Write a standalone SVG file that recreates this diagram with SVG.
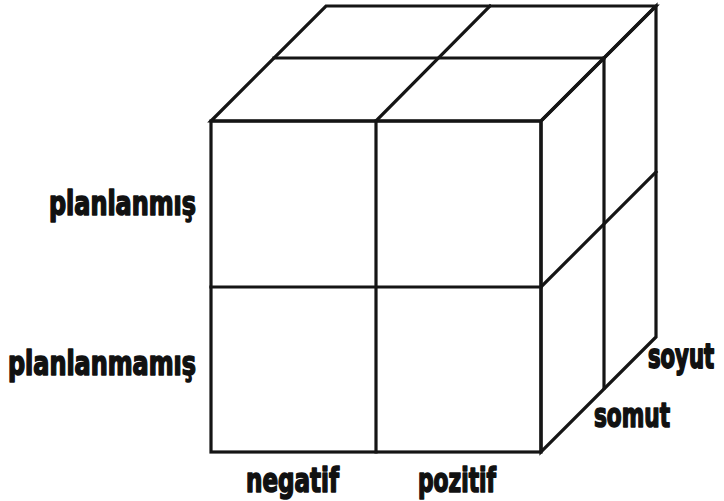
<svg xmlns="http://www.w3.org/2000/svg" width="724" height="501" viewBox="0 0 724 501">
<style>
.e{fill:none;stroke:#151515;stroke-width:3.2;stroke-linejoin:miter;stroke-linecap:square}
.t{font-family:"DejaVu Sans",sans-serif;font-weight:bold;font-stretch:condensed;font-size:33px;fill:#111;stroke:#111;stroke-width:1.6;stroke-linejoin:round}
</style>
<rect width="724" height="501" fill="#fff"/>
<g id="cube">
<g id="top-face">
<polygon class="e" points="211,121 326,6 656,6 541,121"/>
<line class="e" x1="274" y1="58" x2="604" y2="58"/>
<line class="e" x1="376" y1="121" x2="490" y2="6"/>
</g>
<g id="right-face">
<polygon class="e" points="541,121 656,6 656,337 541,452"/>
<line class="e" x1="604" y1="58" x2="604" y2="388"/>
<line class="e" x1="541" y1="287" x2="656" y2="172"/>
</g>
<g id="front-face">
<rect class="e" x="211" y="121" width="330" height="331"/>
<line class="e" x1="376" y1="121" x2="376" y2="452"/>
<line class="e" x1="211" y1="287" x2="541" y2="287"/>
</g>
</g>
<g id="labels">
<text class="t" x="49" y="215" textLength="147" lengthAdjust="spacingAndGlyphs">planlanmış</text>
<text class="t" x="8" y="375" textLength="188" lengthAdjust="spacingAndGlyphs">planlanmamış</text>
<text class="t" x="246" y="492" textLength="93" lengthAdjust="spacingAndGlyphs">negatif</text>
<text class="t" x="418" y="492" textLength="78" lengthAdjust="spacingAndGlyphs">pozitif</text>
<text class="t" transform="translate(648,368) scale(1,1.4)" style="font-size:23.5px;stroke-width:1.3" x="0" y="0">soyut</text>
<text class="t" x="594" y="427" textLength="76" lengthAdjust="spacingAndGlyphs">somut</text>
</g>
</svg>
